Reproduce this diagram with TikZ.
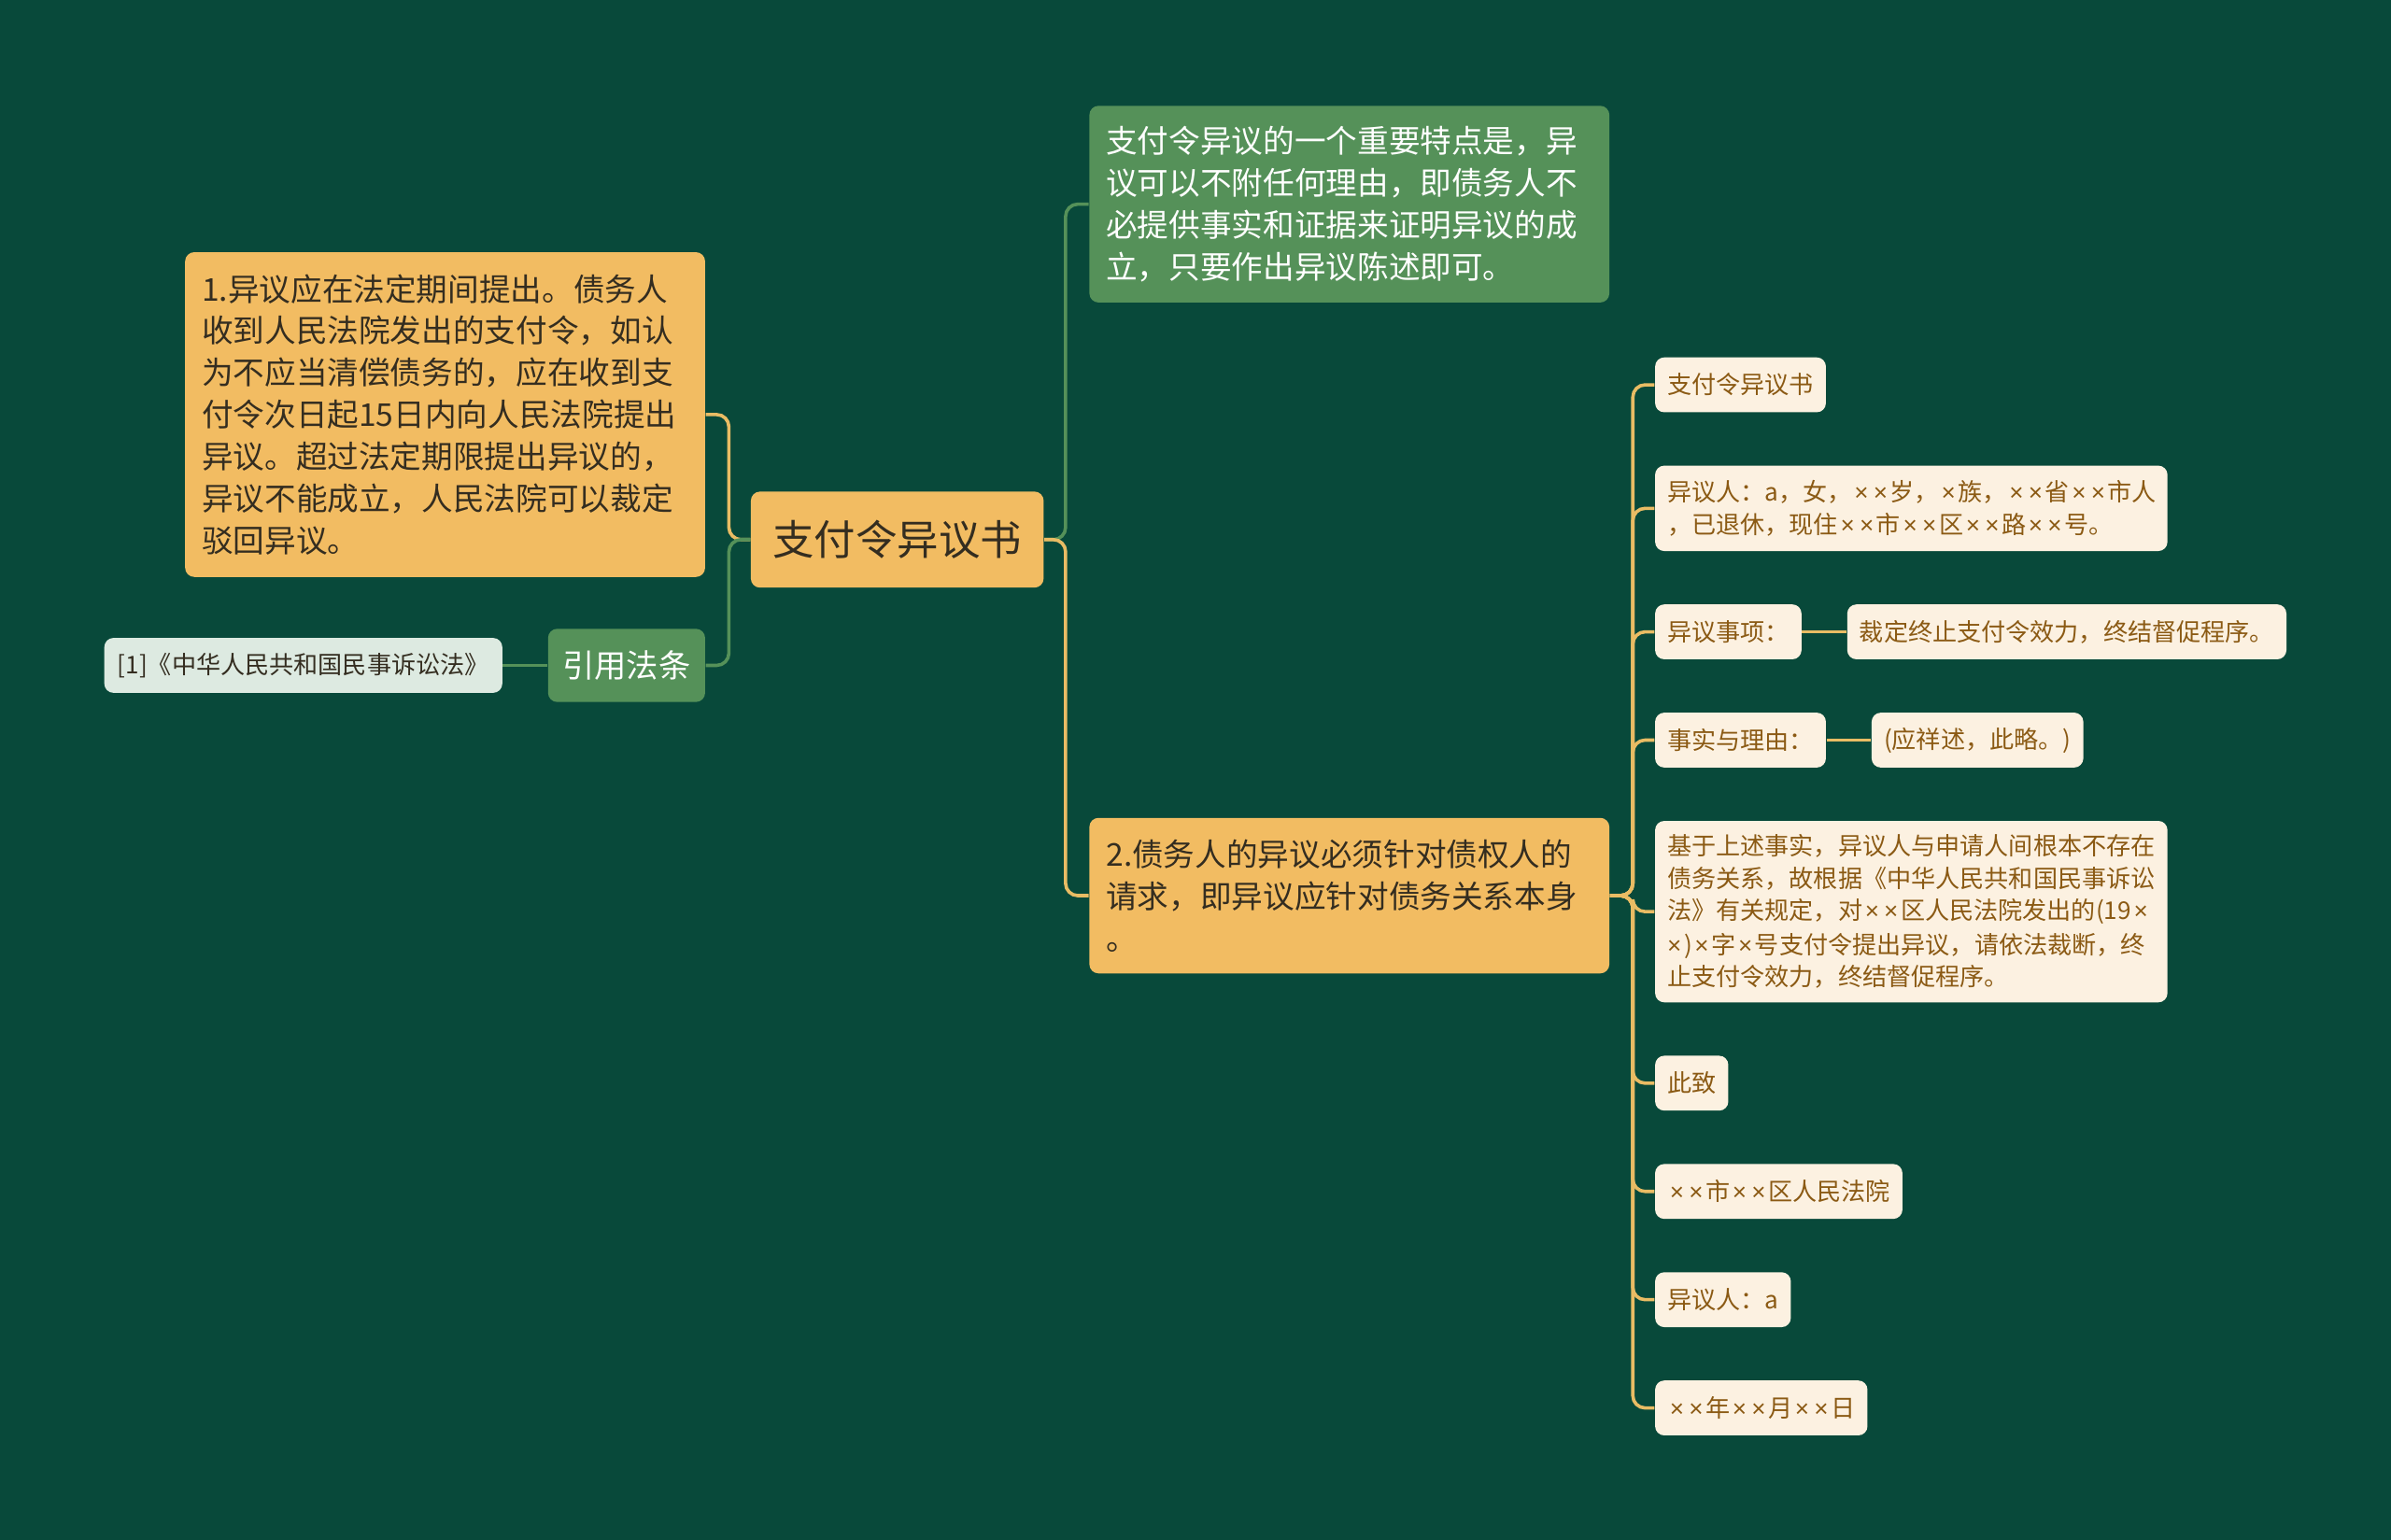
\documentclass[tikz,border=0pt]{standalone}
\usepackage{fontspec}
\setmainfont{Noto Sans CJK SC}
\newfontfamily\lsansfam{Liberation Sans}
\newcommand{\tx}{{\lsansfam\kern0.1em×\kern0.1em}}
\definecolor{bg}{RGB}{8,73,58}
\definecolor{orangefill}{RGB}{242,188,98}
\definecolor{greenfill}{RGB}{85,145,89}
\definecolor{leaffill}{RGB}{252,241,225}
\definecolor{leaftext}{RGB}{139,90,20}
\definecolor{lawfill}{RGB}{221,234,225}
\definecolor{darktext}{RGB}{52,45,32}
\definecolor{olinec}{RGB}{233,188,100}
\definecolor{glinec}{RGB}{85,145,89}
\tikzset{
  box/.style={rounded corners=3pt, inner ysep=0pt, anchor=north west},
  orangebox/.style={box, fill=orangefill, text=darktext},
  greenbox/.style={box, fill=greenfill, text=white},
  leaf/.style={box, fill=leaffill, text=leaftext, font=\fontsize{8}{10.5}\selectfont, minimum height=18pt, inner xsep=4pt},
  bigtext/.style={font=\fontsize{10.3}{13.75}\selectfont, inner xsep=5.5pt, text width=159.5pt, align=left},
  conn/.style={line width=1.1pt, rounded corners=4pt},
  oconn/.style={conn, draw=olinec},
  gconn/.style={conn, draw=glinec}
}
\begin{document}
\begin{tikzpicture}[x=0.5pt,y=-0.5pt]
\useasboundingbox (0,0) rectangle (1568,1010);
\fill[bg] (0,0) rectangle (1568,1010);

\node[orangebox, font=\fontsize{13.6}{16}\selectfont, minimum width=96pt, minimum height=31.5pt] (central) at (492,322) {支付令异议书};

\node[orangebox, bigtext, minimum width=170.5pt, minimum height=106.5pt] (n1) at (121,165) {1.异议应在法定期间提出。债务人\\收到人民法院发出的支付令，如认\\为不应当清偿债务的，应在收到支\\付令次日起15日内向人民法院提出\\异议。超过法定期限提出异议的，\\异议不能成立，人民法院可以裁定\\驳回异议。};

\node[greenbox, font=\fontsize{10.5}{12}\selectfont, minimum width=51.5pt, minimum height=24pt] (cite) at (359,412) {引用法条};

\node[box, fill=lawfill, text=darktext, font=\fontsize{8}{10}\selectfont, minimum width=130.5pt, minimum height=18pt] (law) at (68,418) {[1]《中华人民共和国民事诉讼法》};

\node[greenbox, bigtext, minimum width=170.5pt, minimum height=64.5pt] (g1) at (714,69) {支付令异议的一个重要特点是，异\\议可以不附任何理由，即债务人不\\必提供事实和证据来证明异议的成\\立，只要作出异议陈述即可。};

\node[orangebox, bigtext, minimum width=170.5pt, minimum height=51pt] (n2) at (714,536) {2.债务人的异议必须针对债权人的\\请求，即异议应针对债务关系本身\\。};

\node[leaf, minimum width=55.5pt] (l1) at (1085,234) {支付令异议书};
\node[leaf, minimum width=168pt, minimum height=28pt, text width=160pt, align=left] (l2) at (1085,305) {异议人：a，女，\tx\tx 岁，\tx 族，\tx\tx 省\tx\tx 市人\\，已退休，现住\tx\tx 市\tx\tx 区\tx\tx 路\tx\tx 号。};
\node[leaf, minimum width=48pt] (l3) at (1085,396) {异议事项：};
\node[leaf, minimum width=144pt] (l3b) at (1211,396) {裁定终止支付令效力，终结督促程序。};
\node[leaf, minimum width=55.5pt] (l4) at (1085,467) {事实与理由：};
\node[leaf, minimum width=69pt] (l4b) at (1227,467) {(应祥述，此略。)};
\node[leaf, minimum width=168pt, minimum height=59.5pt, text width=160pt, align=left] (l5) at (1085,538) {基于上述事实，异议人与申请人间根本不存在\\债务关系，故根据《中华人民共和国民事诉讼\\法》有关规定，对\tx\tx 区人民法院发出的(19\tx\\\tx)\tx 字\tx 号支付令提出异议，请依法裁断，终\\止支付令效力，终结督促程序。};
\node[leaf, minimum width=23.5pt] (l6) at (1085,692) {此致};
\node[leaf, minimum width=79.5pt] (l7) at (1085,763) {\tx\tx 市\tx\tx 区人民法院};
\node[leaf, minimum width=44pt] (l8) at (1085,834) {异议人：a};
\node[leaf, minimum width=67.5pt] (l9) at (1085,905) {\tx\tx 年\tx\tx 月\tx\tx 日};

\draw[oconn] (central.west) -- ++(-14,0) |- (n1.east);
\draw[gconn] (central.west) -- ++(-14,0) |- (cite.east);
\draw[gconn] (cite.west) -- (law.east);
\draw[gconn] (central.east) -- ++(14,0) |- (g1.west);
\draw[oconn] (central.east) -- ++(14,0) |- (n2.west);
\foreach \l in {l1,l2,l3,l4,l5,l6,l7,l8,l9}
  \draw[oconn] (n2.east) -- ++(15,0) |- (\l.west);
\draw[oconn] (l3.east) -- (l3b.west);
\draw[oconn] (l4.east) -- (l4b.west);
\end{tikzpicture}
\end{document}
